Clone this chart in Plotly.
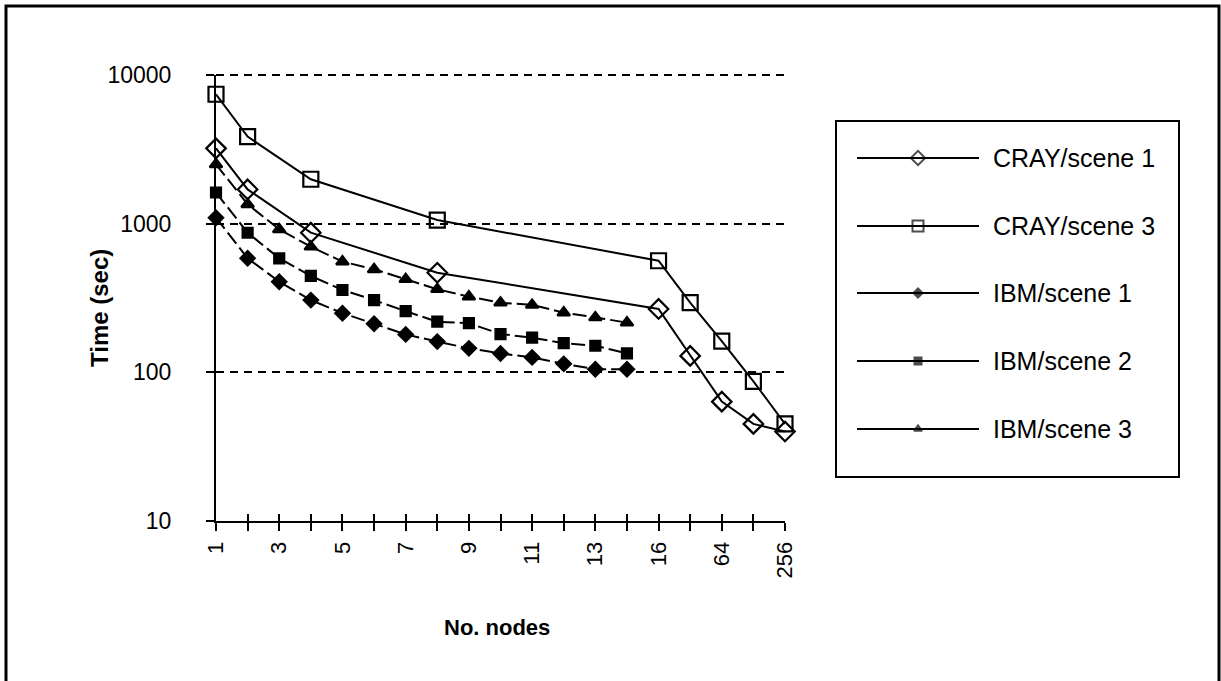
import plotly.graph_objects as go

# ---------------- data ----------------
nodes = [1, 2, 3, 4, 5, 6, 7, 8, 9, 10, 11, 12, 13, 14, 16, 32, 64, 128, 256]
tick_labels = ["1", "", "3", "", "5", "", "7", "", "9", "", "11", "", "13", "", "16", "", "64", "", "256"]
y_ticks = [10, 100, 1000, 10000]

cray_nodes = [1, 2, 4, 8, 16, 32, 64, 128, 256]
cray_scene1 = [3210, 1700, 870, 468, 267, 129, 63.5, 45, 40]
cray_scene3 = [7420, 3850, 1990, 1058, 563, 294, 162, 87, 45]

ibm_nodes = [1, 2, 3, 4, 5, 6, 7, 8, 9, 10, 11, 12, 13, 14]
ibm_scene1 = [1097, 585, 407, 306, 250, 212, 180, 161, 145, 134, 126, 114, 105, 105]
ibm_scene2 = [1620, 869, 585, 445, 358, 306, 258, 219, 214, 181, 171, 157, 151, 134]
ibm_scene3 = [2508, 1350, 916, 700, 556, 493, 423, 362, 323, 294, 284, 252, 234, 216]

series_names = ["CRAY/scene 1", "CRAY/scene 3", "IBM/scene 1", "IBM/scene 2", "IBM/scene 3"]

# ---------------- layout constants ----------------
W, H = 1221, 681
PX0, PX1 = 216, 785        # plot area x (pixels)
PY0, PY1 = 75, 521         # plot area y (pixels, top/bottom)
FONT = "Liberation Sans"

def px(x):
    return x / W

def py(y):
    return (H - y) / H

idx = {n: i for i, n in enumerate(nodes)}

styles = [
    dict(symbol="diamond-open", size=15, dash="solid"),
    dict(symbol="square-open", size=15, dash="solid"),
    dict(symbol="diamond", size=11, dash="14px,5px"),
    dict(symbol="square", size=10, dash="14px,5px"),
    dict(symbol="triangle-up", size=11, dash="14px,5px"),
]
data = [
    (cray_nodes, cray_scene1),
    (cray_nodes, cray_scene3),
    (ibm_nodes, ibm_scene1),
    (ibm_nodes, ibm_scene2),
    (ibm_nodes, ibm_scene3),
]

fig = go.Figure()
for name, (xs, ys), st in zip(series_names, data, styles):
    fig.add_trace(go.Scatter(
        x=[idx[n] for n in xs], y=ys, name=name, mode="lines+markers",
        line=dict(color="black", width=2, dash=st["dash"]),
        marker=dict(symbol=st["symbol"], size=st["size"], color="black",
                    line=dict(color="black", width=2.2)),
        showlegend=False, xaxis="x", yaxis="y", cliponaxis=False,
    ))

# empty trace so the overlay axes (inner half of the crossing ticks) get drawn
fig.add_trace(go.Scatter(x=[], y=[], xaxis="x3", yaxis="y3", showlegend=False, hoverinfo="skip"))

# custom legend drawn on a second pair of axes (pixel units)
LEG_X0, LEG_X1, LEG_Y0, LEG_Y1 = 836, 1179, 121, 477
row_y = [158, 226, 293, 361, 429]
line_x = [857, 918, 979]
for name, st, ry in zip(series_names, styles, row_y):
    fig.add_trace(go.Scatter(
        x=line_x, y=[ry, ry, ry], mode="lines+markers",
        line=dict(color="black", width=2),
        marker=dict(symbol=st["symbol"], size=[0, max(st["size"] - 4, 7), 0], color="black",
                    line=dict(color="black", width=2)),
        showlegend=False, xaxis="x2", yaxis="y2", hoverinfo="skip", cliponaxis=False,
    ))
    fig.add_annotation(x=px(991), y=py(ry), xref="paper", yref="paper", text=name,
                       showarrow=False, xanchor="left", yanchor="middle",
                       font=dict(family=FONT, size=25, color="black"))

fig.update_layout(
    width=W, height=H,
    margin=dict(l=0, r=0, t=0, b=0, autoexpand=False),
    paper_bgcolor="white", plot_bgcolor="white",
    showlegend=False,
    xaxis=dict(
        domain=[px(PX0), px(PX1)], range=[0, len(nodes) - 1],
        tickmode="array", tickvals=list(range(len(nodes))), ticktext=tick_labels,
        tickangle=-90, ticks="outside", ticklen=8, tickwidth=2, tickcolor="black",
        showline=True, linecolor="black", linewidth=2, showgrid=False, zeroline=False,
        tickfont=dict(family=FONT, size=22, color="black"), ticklabelstandoff=2,
        automargin=False,
    ),
    yaxis=dict(
        domain=[py(PY1), py(PY0)], type="log", range=[1, 4],
        tickmode="array", tickvals=y_ticks, ticktext=[str(v) for v in y_ticks],
        ticks="outside", ticklen=8, tickwidth=2, tickcolor="black",
        showline=True, linecolor="black", linewidth=2,
        showgrid=True, gridcolor="black", gridwidth=2, griddash="8px,6px", zeroline=False,
        tickfont=dict(family=FONT, size=23, color="black"), ticklabelstandoff=30,
        automargin=False,
    ),
    xaxis3=dict(
        overlaying="x", anchor="y3", side="bottom", range=[0, len(nodes) - 1],
        tickmode="array", tickvals=list(range(len(nodes))), showticklabels=False,
        ticks="inside", ticklen=7, tickwidth=2, tickcolor="black",
        showline=False, showgrid=False, zeroline=False, fixedrange=True,
    ),
    yaxis3=dict(
        overlaying="y", anchor="x3", side="left", type="log", range=[1, 4],
        tickmode="array", tickvals=y_ticks, showticklabels=False,
        ticks="inside", ticklen=7, tickwidth=2, tickcolor="black",
        showline=False, showgrid=False, zeroline=False, fixedrange=True,
    ),
    xaxis2=dict(domain=[px(LEG_X0), px(LEG_X1)], range=[LEG_X0, LEG_X1], visible=False,
                anchor="y2", fixedrange=True),
    yaxis2=dict(domain=[py(LEG_Y1), py(LEG_Y0)], range=[LEG_Y1, LEG_Y0], visible=False,
                anchor="x2", fixedrange=True),
    shapes=[
        dict(type="rect", xref="paper", yref="paper", x0=px(6), x1=px(1219), y0=py(700), y1=py(6),
             line=dict(color="black", width=3), fillcolor="rgba(0,0,0,0)", layer="below"),
        dict(type="rect", xref="paper", yref="paper", x0=px(LEG_X0), x1=px(LEG_X1),
             y0=py(LEG_Y1), y1=py(LEG_Y0), line=dict(color="black", width=2),
             fillcolor="rgba(0,0,0,0)", layer="below"),
        # top dashed gridline at 10000 (edge of the axis range)
        dict(type="line", xref="x domain", yref="y domain", x0=0, x1=1, y0=1, y1=1,
             line=dict(color="black", width=2, dash="8px,6px"), layer="below"),
    ],
    annotations=list(fig.layout.annotations) + [
        dict(x=px(99), y=py(308), xref="paper", yref="paper", text="<b>Time (sec)</b>",
             textangle=-90, showarrow=False, xanchor="center", yanchor="middle",
             font=dict(family=FONT, size=24, color="black")),
        dict(x=px(497), y=py(627), xref="paper", yref="paper", text="<b>No. nodes</b>",
             showarrow=False, xanchor="center", yanchor="middle",
             font=dict(family=FONT, size=22, color="black")),
    ],
)

fig.write_html("out.html", config={"displayModeBar": False},
               post_script="document.body.style.margin='0px';")
